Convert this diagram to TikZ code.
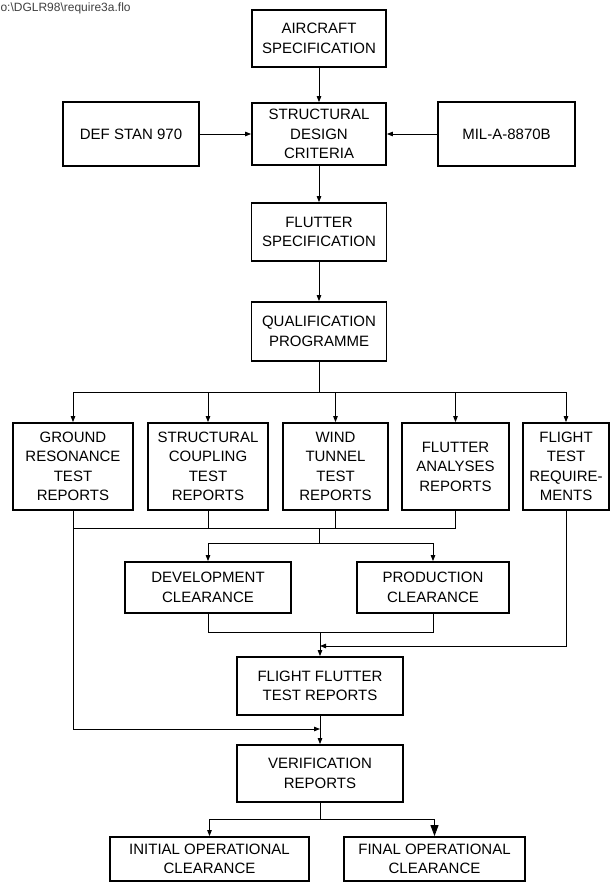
\documentclass[tikz,border=0pt]{standalone}
\usepackage{fontspec}
\setmainfont{Liberation Sans}
\usetikzlibrary{arrows.meta}
\tikzset{
  box/.style={draw=black, line width=1.8pt, align=center, inner sep=0pt,
    font=\fontsize{15}{19.5}\selectfont},
  line/.style={draw=black, line width=0.9pt},
  arr/.style={line, -{Triangle[length=6pt,width=4.5pt]}},
  bigarr/.style={line, -{Triangle[length=11pt,width=8pt]}}
}
\begin{document}
\begin{tikzpicture}[x=1pt, y=-1pt]
\useasboundingbox (0,0) rectangle (610,883);
\node[anchor=west, font=\fontsize{12}{14}\selectfont, text=black!75] (path) at (-3,8) {o:\textbackslash DGLR98\textbackslash require3a.flo};

\node[box, minimum width=134pt, minimum height=57pt] (aircraft) at (319,38.5) {AIRCRAFT\\SPECIFICATION};
\node[box, minimum width=134pt, minimum height=62pt] (sdc) at (319,134) {STRUCTURAL\\DESIGN\\CRITERIA};
\node[box, minimum width=136pt, minimum height=64pt] (defstan) at (131,134) {DEF STAN 970};
\node[box, minimum width=137pt, minimum height=64pt] (mil) at (506.5,134) {MIL-A-8870B};
\node[box, minimum width=135pt, minimum height=58pt] (flutspec) at (319,232) {FLUTTER\\SPECIFICATION};
\node[box, minimum width=135pt, minimum height=59pt] (qual) at (319,331.5) {QUALIFICATION\\PROGRAMME};

\node[box, minimum width=120pt, minimum height=87pt] (ground) at (73,466.5) {GROUND\\RESONANCE\\TEST\\REPORTS};
\node[box, minimum width=120pt, minimum height=87pt] (coupling) at (208,466.5) {STRUCTURAL\\COUPLING\\TEST\\REPORTS};
\node[box, minimum width=105pt, minimum height=87pt] (wind) at (335.5,466.5) {WIND\\TUNNEL\\TEST\\REPORTS};
\node[box, minimum width=107pt, minimum height=87pt] (fanal) at (455.5,466.5) {FLUTTER\\ANALYSES\\REPORTS};
\node[box, minimum width=86pt, minimum height=87pt] (ftreq) at (566,466.5) {FLIGHT\\TEST\\REQUIRE-\\MENTS};

\node[box, minimum width=166pt, minimum height=51pt] (devcl) at (208,587.5) {DEVELOPMENT\\CLEARANCE};
\node[box, minimum width=152pt, minimum height=51pt] (prodcl) at (433,587.5) {PRODUCTION\\CLEARANCE};
\node[box, minimum width=166pt, minimum height=58pt] (fft) at (320,686) {FLIGHT FLUTTER\\TEST REPORTS};
\node[box, minimum width=166pt, minimum height=57pt] (verif) at (320,773.5) {VERIFICATION\\REPORTS};
\node[box, minimum width=199pt, minimum height=44pt] (initial) at (209.5,859) {INITIAL OPERATIONAL\\CLEARANCE};
\node[box, minimum width=181pt, minimum height=44pt] (final) at (434.5,859) {FINAL OPERATIONAL\\CLEARANCE};

\coordinate (split1) at (319,392);
\coordinate (merge) at (319,528);
\coordinate (split2) at (319,543);
\coordinate (join) at (320,632);
\coordinate (ftin) at (320,646);
\coordinate (gin) at (320,729);
\coordinate (split3) at (320,819);

\draw[arr] (aircraft.south) -- (sdc.north);
\draw[arr] (defstan.east) -- (sdc.west);
\draw[arr] (mil.west) -- (sdc.east);
\draw[arr] (sdc.south) -- (flutspec.north);
\draw[arr] (flutspec.south) -- (qual.north);

\draw[line] (qual.south) -- (split1);
\draw[line] (split1 -| ground.north) -- (split1 -| ftreq.north);
\draw[arr] (split1 -| ground.north) -- (ground.north);
\draw[arr] (split1 -| coupling.north) -- (coupling.north);
\draw[arr] (split1 -| wind.north) -- (wind.north);
\draw[arr] (split1 -| fanal.north) -- (fanal.north);
\draw[arr] (split1 -| ftreq.north) -- (ftreq.north);

\draw[line] (coupling.south) -- (merge -| coupling.south);
\draw[line] (wind.south) -- (merge -| wind.south);
\draw[line] (fanal.south) -- (merge -| fanal.south);
\draw[line] (merge -| ground.south) -- (merge -| fanal.south);
\draw[line] (merge) -- (split2);
\draw[line] (split2 -| devcl.north) -- (split2 -| prodcl.north);
\draw[arr] (split2 -| devcl.north) -- (devcl.north);
\draw[arr] (split2 -| prodcl.north) -- (prodcl.north);

\draw[line] (devcl.south) -- (join -| devcl.south) -- (join -| prodcl.south) -- (prodcl.south);
\draw[arr] (join) -- (fft.north);
\draw[arr] (ftreq.south) -- (ftin -| ftreq.south) -- (ftin);

\draw[arr] (ground.south) -- (gin -| ground.south) -- (gin);
\draw[arr] (fft.south) -- (verif.north);

\draw[line] (verif.south) -- (split3);
\draw[line] (split3 -| initial.north) -- (split3 -| final.north);
\draw[arr] (split3 -| initial.north) -- (initial.north);
\draw[bigarr] (split3 -| final.north) -- (final.north);
\end{tikzpicture}
\end{document}
